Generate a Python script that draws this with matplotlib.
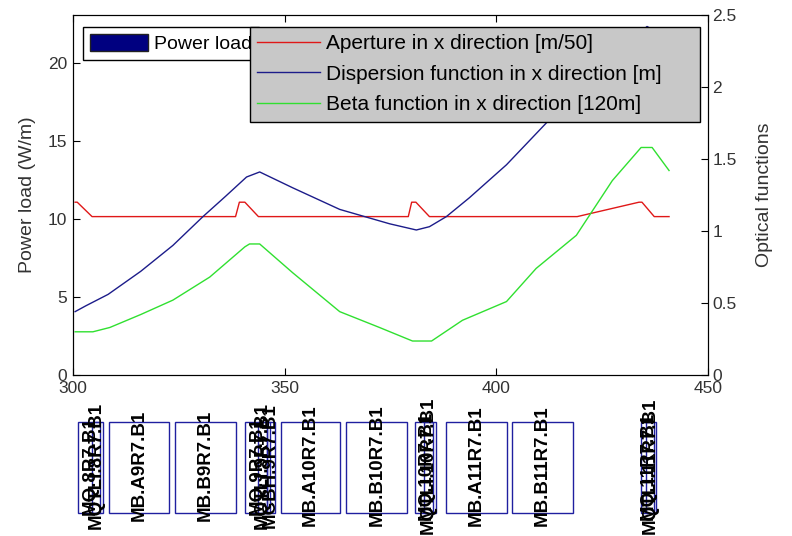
import matplotlib
matplotlib.use("Agg")
import matplotlib.pyplot as plt
from matplotlib.patches import Patch, Rectangle

plt.rcParams['font.family'] = ['Liberation Sans', 'DejaVu Sans']

# aperture in x [m/50]
ap_s = [300.5, 301.0, 304.5, 338.4, 339.3, 340.6, 343.8, 379.2, 380.0, 381.0, 384.2,
        419.1, 433.7, 434.4, 437.3, 440.8]
ap_v = [1.20, 1.20, 1.10, 1.10, 1.20, 1.20, 1.10, 1.10, 1.20, 1.20, 1.10,
        1.10, 1.20, 1.20, 1.10, 1.10]

# dispersion in x [m]
disp_s = [300.5, 303.0, 308.3, 316.0, 323.6, 330.7, 336.0, 341.0, 344.1, 351.9, 363.0,
          374.8, 381.1, 384.2, 388.2, 393.6, 402.4, 411.8, 418.0, 424.3, 430.0, 435.6,
          438.0, 440.8]
disp_v = [0.44, 0.48, 0.56, 0.72, 0.90, 1.10, 1.24, 1.375, 1.41, 1.30, 1.15,
          1.05, 1.007, 1.03, 1.10, 1.23, 1.46, 1.75, 1.95, 2.12, 2.28, 2.42,
          2.38, 2.30]

# beta in x [120 m]
beta_s = [300.5, 304.7, 308.7, 316.0, 323.6, 332.3, 340.6, 341.7, 344.1, 351.9, 363.0,
          372.4, 380.2, 384.7, 392.0, 402.4, 409.4, 418.9, 427.4, 434.2, 436.8, 440.8]
beta_v = [0.30, 0.30, 0.33, 0.42, 0.52, 0.68, 0.89, 0.91, 0.91, 0.71, 0.44,
          0.33, 0.236, 0.236, 0.38, 0.51, 0.74, 0.97, 1.35, 1.58, 1.58, 1.42]

# magnets: name, start [m], length [m]
mag_names = ["MQ.8R7.B1", "MQTLI.8R7.B1", "MB.A9R7.B1", "MB.B9R7.B1",
             "MQ.9R7.B1", "MQTLI.9R7.B1", "MCBH.9R7.B1",
             "MB.A10R7.B1", "MB.B10R7.B1", "MQ.10R7.B1", "MQTLI.10R7.B1",
             "MB.A11R7.B1", "MB.B11R7.B1", "MQ.11R7.B1", "MQTLI.11R7.B1"]
mag_start = [301.2, 304.5, 308.5, 324.1,
             340.6, 343.8, 345.8,
             349.1, 364.6, 380.9, 383.0,
             388.0, 403.8, 434.2, 435.3]
mag_len = [5.9, 1.9, 14.1, 14.3,
           5.9, 2.0, 1.8,
           14.0, 14.4, 4.9, 2.0,
           14.5, 14.2, 3.5, 2.0]

W, H = 792, 536
fig = plt.figure(figsize=(W / 100, H / 100), dpi=100)

ax = fig.add_axes([73 / W, 1 - 375 / H, 635 / W, 360 / H])
ax.set_xlim(300, 450)
ax.set_ylim(0, 23.1)
ax.set_xticks([300, 350, 400, 450])
ax.set_yticks([0, 5, 10, 15, 20])
ax.tick_params(direction='in', length=5, top=True, right=True, labelsize=12.5,
               labelcolor='#333333', pad=4)
ax.set_ylabel("Power load (W/m)", fontsize=14, color='#333333')
ax.yaxis.set_label_coords(-0.058, 0.5)

ax2 = ax.twinx()
ax2.set_ylim(0, 2.5)
ax2.set_yticks([0, 0.5, 1, 1.5, 2, 2.5])
ax2.set_yticklabels(["0", "0.5", "1", "1.5", "2", "2.5"])
ax2.tick_params(direction='in', length=5, labelsize=12.5, labelcolor='#333333', pad=3)
ax2.set_ylabel("Optical functions", fontsize=14, color='#333333')
ax2.yaxis.set_label_coords(1.075, 0.5)

l1, = ax2.plot(ap_s, ap_v, color='#e01818', lw=1)
l2, = ax2.plot(disp_s, disp_v, color='#1c1c8a', lw=1)
l3, = ax2.plot(beta_s, beta_v, color='#30e030', lw=1)

leg1 = ax.legend([Patch(facecolor='#000080', edgecolor='#222222')], ["Power load"],
                 loc='upper left', bbox_to_anchor=(83 / W, 1 - 27 / H),
                 bbox_transform=fig.transFigure, borderaxespad=0, fontsize=14,
                 handlelength=3.0, handleheight=1.0, handletextpad=0.3,
                 borderpad=0.35, fancybox=False, framealpha=1, edgecolor='black')
leg1.get_frame().set_linewidth(1)

leg2 = ax2.legend([l1, l2, l3],
                  ["Aperture in x direction [m/50]",
                   "Dispersion function in x direction [m]",
                   "Beta function in x direction [120m]"],
                  loc='upper left', mode='expand',
                  bbox_to_anchor=(250 / W, 1 - 123 / H, 450 / W, 96 / H),
                  bbox_transform=fig.transFigure, borderaxespad=0, fontsize=15,
                  handlelength=3.0, handletextpad=0.3, labelspacing=0.55,
                  borderpad=0.35, fancybox=False, framealpha=1,
                  facecolor='#c8c8c8', edgecolor='black')
leg2.get_frame().set_linewidth(1)

# magnet layout strip below the plot
axm = fig.add_axes([73 / W, 0, 635 / W, 141 / H])
axm.set_xlim(300, 450)
axm.set_ylim(0, 1)
axm.axis('off')
box_lo = (536 - 513) / 141
box_hi = (536 - 422) / 141
for name, s0, ln in zip(mag_names, mag_start, mag_len):
    axm.add_patch(Rectangle((s0, box_lo), ln, box_hi - box_lo, fill=False,
                            edgecolor='#2020a0', lw=1))
    axm.text(s0 + ln / 2, 0.5, name, rotation=90, ha='center', va='center',
             fontsize=13.5, fontweight='bold', color='black')

fig.savefig("out.png", dpi=100)
